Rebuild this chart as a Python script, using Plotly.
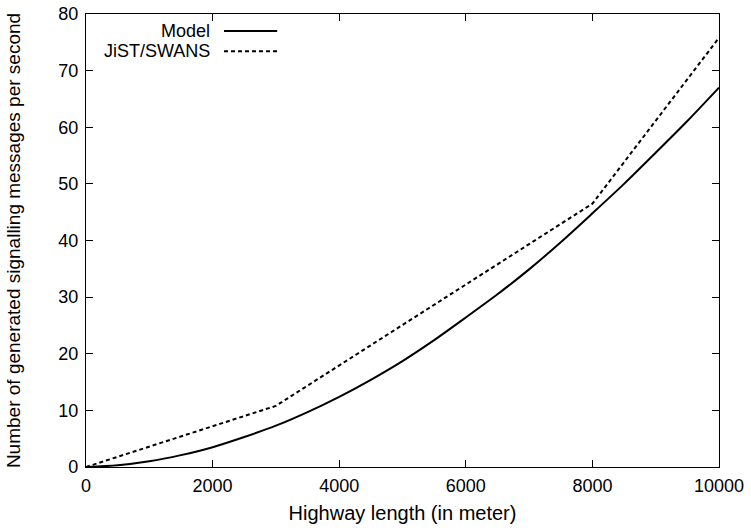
import plotly.graph_objects as go

# Data
model_x = [0, 500, 1000, 1500, 2000, 2500, 3000, 3500, 4000, 4500, 5000,
           5500, 6000, 6500, 7000, 7500, 8000, 8500, 9000, 9500, 10000]
model_y = [0, 0.3, 1.0, 2.1, 3.5, 5.3, 7.3, 9.7, 12.4, 15.4, 18.7,
           22.4, 26.4, 30.5, 34.9, 39.7, 44.8, 50.0, 55.5, 61.1, 67.0]

jist_x = [0, 3000, 8000, 10000]
jist_y = [0, 10.8, 46.5, 75.8]

series_names = ["Model", "JiST/SWANS"]
x_ticks = [0, 2000, 4000, 6000, 8000, 10000]
y_ticks = [0, 10, 20, 30, 40, 50, 60, 70, 80]

FONT = "Liberation Sans, Arial, Helvetica, sans-serif"

fig = go.Figure()
fig.add_trace(go.Scatter(x=model_x, y=model_y, mode="lines", name=series_names[0],
                         line=dict(color="black", width=2, shape="spline", smoothing=0.8),
                         showlegend=False))
fig.add_trace(go.Scatter(x=jist_x, y=jist_y, mode="lines", name=series_names[1],
                         line=dict(color="black", width=2, dash="4px,3px"), showlegend=False))

axis_common = dict(showgrid=False, zeroline=False, showline=True, linecolor="black",
                   linewidth=1.3, mirror="ticks", ticks="inside", ticklen=7,
                   tickcolor="black", tickwidth=1.2, automargin=False,
                   ticklabeloverflow="allow",
                   tickfont=dict(family=FONT, size=18, color="black"))

fig.update_xaxes(range=[0, 10000], tickvals=x_ticks, ticktext=[str(v) for v in x_ticks],
                 ticklabelstandoff=2,
                 title=dict(text="Highway length (in meter)", font=dict(family=FONT, size=20, color="black"),
                            standoff=11),
                 **axis_common)
fig.update_yaxes(range=[0, 80], tickvals=y_ticks, ticktext=[str(v) for v in y_ticks],
                 ticklabelstandoff=3,
                 title=dict(text="Number of generated signalling messages per second",
                            font=dict(family=FONT, size=19, color="black"), standoff=32),
                 **axis_common)

# gnuplot-style legend: right-aligned text with line sample to the right
legend_rows = [(series_names[0], 0.9625, "solid"), (series_names[1], 0.918, "4px,3px")]
for name, yp, dash in legend_rows:
    fig.add_annotation(x=0.199, y=yp, xref="paper", yref="paper", text=name,
                       showarrow=False, xanchor="right", yanchor="middle",
                       font=dict(family=FONT, size=18, color="black"))
    fig.add_shape(type="line", xref="paper", yref="paper", x0=0.218, x1=0.302,
                  y0=yp, y1=yp, line=dict(color="black", width=2, dash=dash))

fig.update_layout(width=751, height=532, margin=dict(l=86, r=32, t=14, b=65),
                  paper_bgcolor="white", plot_bgcolor="white",
                  font=dict(family=FONT, color="black"))

# remove the default 8px page margin so the figure fills the window exactly
fig.write_html("out.html", config={"displayModeBar": False},
               post_script="document.body.style.margin='0';document.body.style.overflow='hidden';")
